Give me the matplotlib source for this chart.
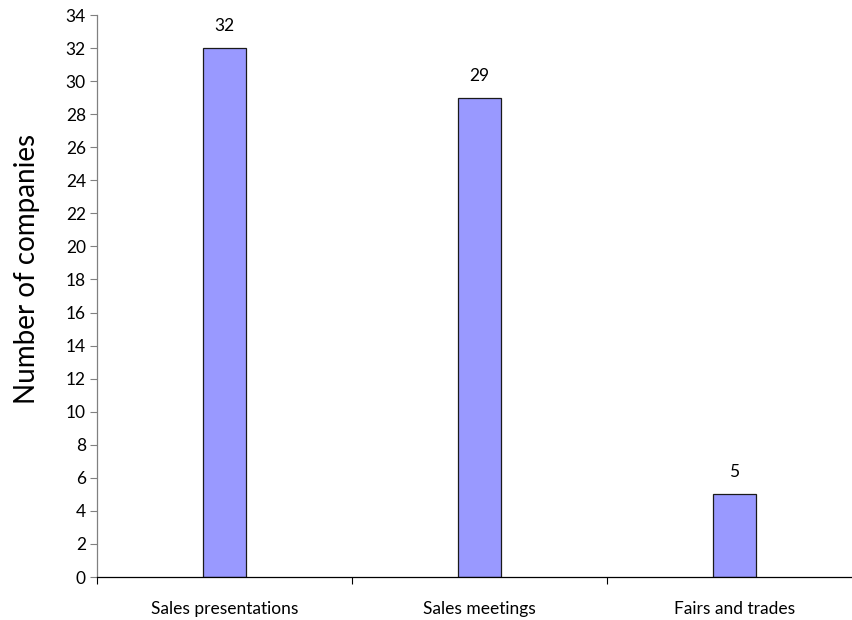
import matplotlib
matplotlib.use('Agg')
import matplotlib.pyplot as plt

# survey counts per channel
channels = ['Sales presentations', 'Sales meetings', 'Fairs and trades']
companies = [32, 29, 5]
yticks = list(range(0, 35, 2))

plt.rcParams['font.family'] = ['Lato', 'DejaVu Sans']

fig = plt.figure(figsize=(8.52, 6.2), dpi=100)
ax = fig.add_axes([97/852, 43/620, 765/852, 562/620])

x = list(range(len(channels)))
ax.bar(x, companies, width=0.17, color='#9999FF', edgecolor='#1a1a1a', linewidth=0.9, zorder=2)

for xi, v in zip(x, companies):
    ax.annotate(str(v), (xi, v), xytext=(0, 10), textcoords='offset points',
                ha='center', va='bottom', fontsize=12.5)

ax.set_xlim(-0.5, len(channels) - 0.5)
ax.set_ylim(0, 34)
ax.set_yticks(yticks)
ax.tick_params(axis='y', labelsize=12.5, length=5, width=0.8, color='#808080', pad=3)

# category dividers as major ticks, names on minor ticks
ax.set_xticks([i - 0.5 for i in range(len(channels) + 1)])
ax.set_xticklabels([])
ax.set_xticks(x, minor=True)
ax.set_xticklabels(channels, minor=True)
ax.tick_params(axis='x', which='major', length=5, width=0.8, direction='out')
ax.tick_params(axis='x', which='minor', length=0, labelsize=12.5, pad=17.5)

ax.spines['top'].set_visible(False)
ax.spines['right'].set_visible(False)
ax.spines['left'].set_color('#808080')
ax.spines['bottom'].set_color('#000000')
ax.spines['left'].set_linewidth(0.9)
ax.spines['bottom'].set_linewidth(0.9)

ax.set_ylabel('Number of companies', fontsize=20)
ax.yaxis.set_label_coords(-0.075, 0.548)

fig.savefig('out.png', dpi=100)
